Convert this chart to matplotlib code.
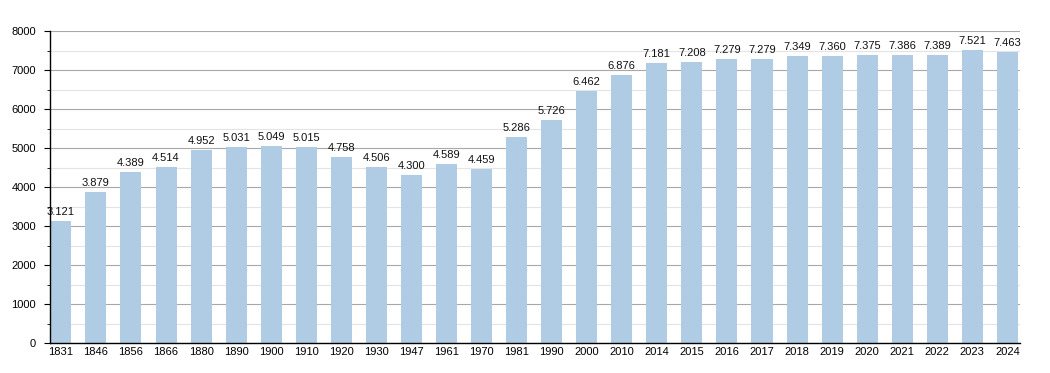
import matplotlib
matplotlib.use("Agg")
import matplotlib.pyplot as plt
from matplotlib.ticker import MultipleLocator

years = ["1831", "1846", "1856", "1866", "1880", "1890", "1900", "1910", "1920", "1930",
         "1947", "1961", "1970", "1981", "1990", "2000", "2010", "2014", "2015", "2016",
         "2017", "2018", "2019", "2020", "2021", "2022", "2023", "2024"]
population = [3121, 3879, 4389, 4514, 4952, 5031, 5049, 5015, 4758, 4506,
              4300, 4589, 4459, 5286, 5726, 6462, 6876, 7181, 7208, 7279,
              7279, 7349, 7360, 7375, 7386, 7389, 7521, 7463]

plt.rcParams['font.family'] = ['Liberation Sans', 'DejaVu Sans']

fig = plt.figure(figsize=(10.5, 3.73), dpi=100)
ax = fig.add_axes([50/1050, 30/373, (1020-50)/1050, (343-31)/373])

x = list(range(len(years)))
ax.bar(x, population, width=0.6, color='#b0cce4', zorder=3)

for xi, v in zip(x, population):
    label = f"{v:,}".replace(",", ".")
    ax.annotate(label, (xi, v), xytext=(0, 3), textcoords='offset points',
                ha='center', va='bottom', fontsize=8, color='#111111', zorder=4)

ax.set_ylim(0, 8000)
ax.set_xlim(-0.31, len(years) - 1 + 0.36)
ax.yaxis.set_major_locator(MultipleLocator(1000))
ax.yaxis.set_minor_locator(MultipleLocator(500))
ax.grid(axis='y', which='major', color='#a8a8a8', linewidth=0.8, zorder=0)
ax.grid(axis='y', which='minor', color='#e4e4e4', linewidth=0.8, zorder=0)
ax.set_xticks(x)
ax.set_xticklabels(years)
ax.tick_params(axis='x', length=0, labelsize=8, pad=3)
ax.tick_params(axis='y', which='major', length=4, labelsize=8, pad=6)
ax.tick_params(axis='y', which='minor', length=2)
for s in ['top', 'right']:
    ax.spines[s].set_visible(False)
for s in ['left', 'bottom']:
    ax.spines[s].set_color('black')
    ax.spines[s].set_linewidth(1.0)
    ax.spines[s].set_zorder(5)

fig.savefig("out.png", dpi=100)
